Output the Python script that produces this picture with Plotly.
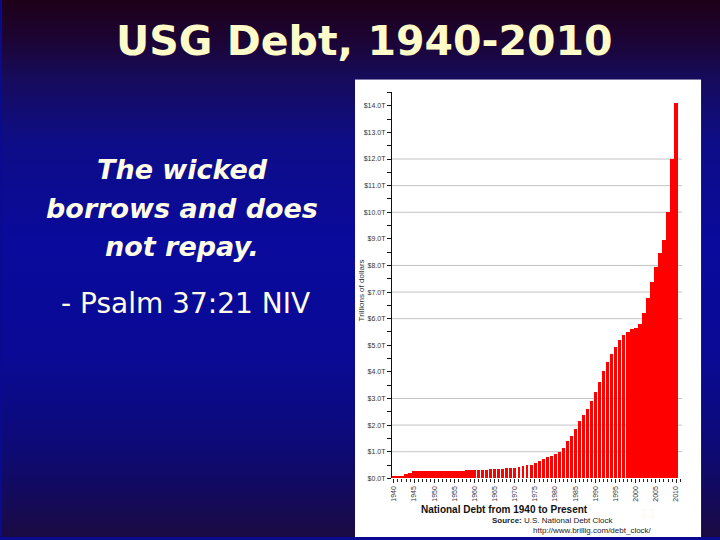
import base64
import plotly.graph_objects as go

# ---------------- data ----------------
years = list(range(1940, 2011))
debt_trillions = [
    0.04, 0.05, 0.07, 0.14, 0.20, 0.26, 0.27, 0.26, 0.25, 0.25,   # 1940-1949
    0.26, 0.26, 0.26, 0.27, 0.27, 0.27, 0.27, 0.27, 0.28, 0.29,   # 1950-1959
    0.29, 0.29, 0.30, 0.31, 0.32, 0.32, 0.33, 0.34, 0.37, 0.37,   # 1960-1969
    0.38, 0.41, 0.44, 0.47, 0.48, 0.54, 0.63, 0.71, 0.78, 0.83,   # 1970-1979
    0.91, 0.99, 1.14, 1.37, 1.56, 1.82, 2.12, 2.35, 2.60, 2.87,   # 1980-1989
    3.21, 3.60, 4.00, 4.35, 4.64, 4.92, 5.18, 5.37, 5.48, 5.61,   # 1990-1999
    5.63, 5.77, 6.20, 6.76, 7.35, 7.91, 8.45, 8.95, 9.99, 12.0,   # 2000-2009
    14.1,                                                          # 2010
]
x_tick_years = [1940, 1945, 1950, 1955, 1960, 1965, 1970, 1975,
                1980, 1985, 1990, 1995, 2000, 2005, 2010]
x_tick_labels = [str(y) for y in x_tick_years]
y_tick_values = list(range(0, 15))
y_tick_labels = ["$%d.0T" % v for v in y_tick_values]
grid_levels = [1, 2, 3, 6, 7, 8, 10, 11, 12]

slide_title = "USG Debt, 1940-2010"
quote_lines = ["The wicked", "borrows and does", "not repay."]
citation = "- Psalm 37:21 NIV"
chart_title = "National Debt from 1940 to Present"
source_line = "<b>Source:</b> U.S. National Debt Clock"
source_url = "http://www.brillig.com/debt_clock/"

W, H = 720, 540

def px(x):
    return x / W

def py(y):
    return 1 - y / H

# ---------------- background (gradient + white chart panel) ----------------
svg = f'''<svg xmlns="http://www.w3.org/2000/svg" width="{W}" height="{H}" viewBox="0 0 {W} {H}">
<defs>
<linearGradient id="g" x1="0" y1="0" x2="0" y2="1">
<stop offset="0" stop-color="#1e0018"/>
<stop offset="0.07" stop-color="#1c0432"/>
<stop offset="0.15" stop-color="#160b5e"/>
<stop offset="0.27" stop-color="#0d0d88"/>
<stop offset="0.45" stop-color="#0a0a9c"/>
<stop offset="0.66" stop-color="#0a0a96"/>
<stop offset="0.84" stop-color="#0d0a74"/>
<stop offset="1" stop-color="#1a0a44"/>
</linearGradient>
</defs>
<rect x="0" y="0" width="{W}" height="{H}" fill="url(#g)"/>
<rect x="354" y="80" width="347" height="460" fill="#ffffff"/>
</svg>'''
bg_uri = "data:image/svg+xml;base64," + base64.b64encode(svg.encode()).decode()

# ---------------- figure ----------------
bar_widths = [1.0 if (y < 1960 or y >= 1998) else 0.72 for y in years]

fig = go.Figure()
fig.add_trace(go.Bar(
    x=years, y=debt_trillions, width=bar_widths,
    marker=dict(color="#ff0000", line=dict(width=0)),
    hoverinfo="x+y",
))

chart_font = "Liberation Sans, Arial, sans-serif"
slide_font = "DejaVu Sans, sans-serif"

fig.update_layout(
    width=W, height=H,
    margin=dict(l=0, r=0, t=0, b=0),
    paper_bgcolor="#0a0a90",
    plot_bgcolor="rgba(0,0,0,0)",
    showlegend=False,
    bargap=0,
    xaxis=dict(
        domain=[px(391), px(682)],
        range=[1939.5, 2011.5],
        tickmode="array", tickvals=x_tick_years, ticktext=x_tick_labels,
        tickangle=-90,
        tickfont=dict(family=chart_font, size=7, color="#333333"),
        ticks="outside", ticklen=4, tickcolor="#222222", tickwidth=1,
        minor=dict(dtick=1, tick0=1940, ticks="outside", ticklen=3,
                   tickcolor="#222222", tickwidth=1, showgrid=False),
        showgrid=False, showline=False, zeroline=False,
        fixedrange=True,
    ),
    yaxis=dict(
        domain=[py(481), py(93)],
        range=[0, 14.5],
        tickmode="array", tickvals=y_tick_values, ticktext=y_tick_labels,
        tickfont=dict(family=chart_font, size=7, color="#333333"),
        ticks="outside", ticklen=4, tickcolor="#111111", tickwidth=1,
        minor=dict(dtick=0.5, tick0=0, ticks="outside", ticklen=4,
                   tickcolor="#111111", tickwidth=1, showgrid=False),
        showgrid=False, zeroline=False,
        showline=True, linecolor="#111111", linewidth=1,
        fixedrange=True,
    ),
    images=[dict(source=bg_uri, xref="paper", yref="paper", x=0, y=1,
                 sizex=1, sizey=1, xanchor="left", yanchor="top",
                 sizing="stretch", layer="below")],
)

# gridlines that are visible in the picture
for lvl in grid_levels:
    fig.add_shape(type="line", xref="x domain", yref="y",
                  x0=0, x1=1, y0=lvl, y1=lvl,
                  line=dict(color="#c4c4c4", width=1), layer="below")

ann = []
ann.append(dict(text="<b>" + slide_title + "</b>", x=px(364), y=py(41),
                font=dict(family=slide_font, size=41, color="#fffbc8")))
quote_y = [170, 210, 248]
for line, yy in zip(quote_lines, quote_y):
    ann.append(dict(text="<b><i>" + line + "</i></b>", x=px(181), y=py(yy),
                    font=dict(family=slide_font, size=27, color="#fffde6")))
ann.append(dict(text=citation, x=px(184), y=py(305),
                font=dict(family=slide_font, size=28, color="#fffde6")))
ann.append(dict(text="Trillions of dollars", x=px(360), y=py(292), textangle=-90,
                font=dict(family=chart_font, size=8, color="#333333")))
ann.append(dict(text="<b>" + chart_title + "</b>", x=px(504), y=py(512),
                font=dict(family=chart_font, size=10, color="#111111")))
ann.append(dict(text=source_line, x=px(489), y=py(523), xanchor="left",
                font=dict(family=chart_font, size=8, color="#222222")))
ann.append(dict(text=source_url, x=px(530), y=py(533), xanchor="left",
                font=dict(family=chart_font, size=8, color="#222222")))
ann.append(dict(text="11", x=px(648), y=py(516),
                font=dict(family=slide_font, size=13, color="#fdfbee")))

for a in ann:
    a.setdefault("xanchor", "center")
    a.setdefault("yanchor", "middle")
    fig.add_annotation(xref="paper", yref="paper", showarrow=False, **a)

fig.write_html("out.html", config={"displayModeBar": False},
               post_script="document.body.style.margin='0';")
